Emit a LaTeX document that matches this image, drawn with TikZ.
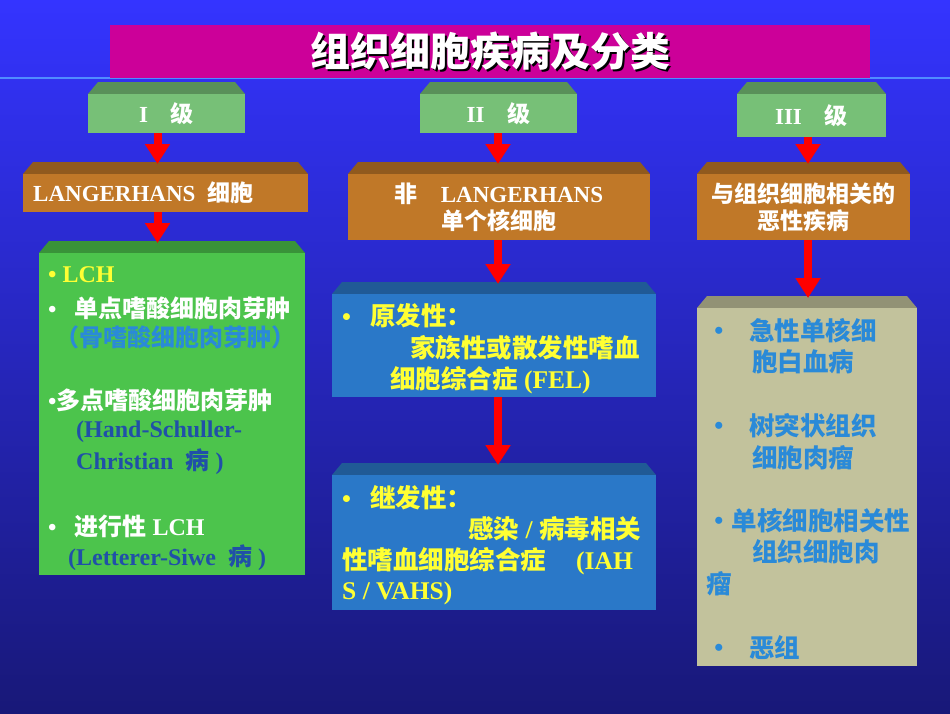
\documentclass[tikz,border=0pt]{standalone}
\usepackage{fontspec}
\setmainfont{Liberation Serif}[BoldFont={Liberation Serif Bold}]
\newfontfamily\cjk{Noto Sans CJK SC}
\usetikzlibrary{arrows.meta}
\newcommand{\zh}[1]{{\cjk\bfseries #1}}
\definecolor{gr}{HTML}{77C077}
\definecolor{org}{HTML}{C07828}
\definecolor{lg}{HTML}{4CC44C}
\definecolor{bl}{HTML}{2A78C8}
\definecolor{kh}{HTML}{C2C29C}
\definecolor{ty}{HTML}{FFFF33}
\definecolor{tb}{HTML}{2A8AD8}
\definecolor{td}{HTML}{2050A8}
\definecolor{mag}{HTML}{CC0099}
% \bbox{name}{x1}{y1}{x2}{y2}{color}
\newcommand{\bbox}[6]{%
  \fill[#6!75!black] (#2,#3+12) -- (#2+10,#3) -- (#4-10,#3) -- (#4,#3+12) -- cycle;
  \node[fill=#6, inner sep=0, outer sep=0, anchor=north west, minimum width={#4pt-#2pt}, minimum height={#5pt-#3pt-12pt}] (#1) at (#2,#3+12) {};}
\begin{document}
\begin{tikzpicture}[x=1pt,y=-1pt,
  arr/.style={red, line width=8pt, -{Triangle[width=24pt,length=20pt]}, shorten >=10pt},
  tx/.style={anchor=west, inner sep=0, font=\bfseries\fontsize{25}{29}\selectfont},
  bx/.style={anchor=center, inner sep=0, font=\bfseries\fontsize{23}{27}\selectfont, white, align=center}]
\shade[top color={rgb,255:red,52;green,52;blue,255}, bottom color={rgb,255:red,24;green,24;blue,120}] (0,0) rectangle (950,713);
\useasboundingbox (0,0) rectangle (950,713);
\draw[line width=1.5pt, color={rgb,255:red,80;green,140;blue,255}] (0,78) -- (950,78);
\node[fill=mag, inner sep=0, anchor=north west, minimum width=760pt, minimum height=53pt] (title) at (110,25) {};
\node[font=\cjk\bfseries\fontsize{40}{46}\selectfont, black] at ([shift={(2pt,-2pt)}]title.center) {组织细胞疾病及分类};
\node[font=\cjk\bfseries\fontsize{40}{46}\selectfont, white] at (title.center) {组织细胞疾病及分类};
% grade boxes
\bbox{g1}{88}{82}{245}{133}{gr}
\bbox{g2}{420}{82}{577}{133}{gr}
\bbox{g3}{737}{82}{886}{137}{gr}
\node[bx] at (g1.center) {I\quad\zh{级}};
\node[bx] at (g2.center) {II\quad\zh{级}};
\node[bx] at (g3.center) {III\quad\zh{级}};
% orange
\bbox{o1}{23}{162}{308}{212}{org}
\bbox{o2}{348}{162}{650}{240}{org}
\bbox{o3}{697}{162}{910}{240}{org}
\node[tx, white, font=\bfseries\fontsize{23}{27}\selectfont] at (33,193) {LANGERHANS\ \ \zh{细胞}};
\node[bx] at (o2.center) {\zh{非}\quad LANGERHANS\\\zh{单个核细胞}};
\node[bx] at (o3.center) {\zh{与组织细胞相关的}\\\zh{恶性疾病}};
% lower boxes
\bbox{lch}{39}{241}{305}{575}{lg}
\bbox{p1}{332}{282}{656}{397}{bl}
\bbox{p2}{332}{463}{656}{610}{bl}
\bbox{m}{697}{296}{917}{666}{kh}
% arrows
\draw[arr] ([xshift=-9pt]g1.south) -- ([xshift=-9pt]g1.south |- o1.north);
\draw[arr] ([xshift=-0.5pt]g2.south) -- ([xshift=-0.5pt]g2.south |- o2.north);
\draw[arr] ([xshift=-3.5pt]g3.south) -- ([xshift=-3.5pt]g3.south |- o3.north);
\draw[arr] ([xshift=-9pt]g1.south |- o1.south) -- ([xshift=-9pt]g1.south |- lch.north);
\draw[arr] ([xshift=-0.5pt]g2.south |- o2.south) -- ([xshift=-0.5pt]g2.south |- p1.north);
\draw[arr] ([xshift=-3.5pt]g3.south |- o3.south) -- ([xshift=-3.5pt]g3.south |- m.north);
\draw[arr] ([xshift=-0.5pt]g2.south |- p1.south) -- ([xshift=-0.5pt]g2.south |- p2.north);
% green text
\begin{scope}[every node/.style={tx, font=\bfseries\fontsize{24}{28}\selectfont}]
\node[ty] at (48,275) {• LCH};
\node[white] at (48,308) {•\ \ \ \zh{单点嗜酸细胞肉芽肿}};
\node[tb] at (55,337) {\zh{（骨嗜酸细胞肉芽肿）}};
\node[white] at (48,400) {•\zh{多点嗜酸细胞肉芽肿}};
\node[td] at (76,432) {(Hand-Schuller-};
\node[td] at (76,462) {Christian\ \ \zh{病} )};
\node[white] at (48,526) {•\ \ \ \zh{进行性} LCH};
\node[td] at (68,558) {(Letterer-Siwe\ \ \zh{病} )};
\end{scope}
% blue text
\begin{scope}[every node/.style={tx, ty, font=\bfseries\fontsize{25.5}{29}\selectfont}]
\node at (342,316) {•\ \ \ \zh{原发性：}};
\node at (410,348) {\zh{家族性或散发性嗜血}};
\node at (390,380) {\zh{细胞综合症} (FEL)};
\node at (342,498) {•\ \ \ \zh{继发性：}};
\node at (468,529) {\zh{感染} / \zh{病毒相关}};
\node at (342,561) {\zh{性嗜血细胞综合症}\hspace{30pt}(IAH};
\node at (342,593) {S / VAHS)};
\end{scope}
\begin{scope}[every node/.style={tx, tb, font=\cjk\bfseries\fontsize{25.5}{30}\selectfont}]
\node at (706,331) {•\ \ \ 急性单核细};
\node at (752,362) {胞白血病};
\node at (706,426) {•\ \ \ 树突状组织};
\node at (752,458) {细胞肉瘤};
\node at (706,521) {•单核细胞相关性};
\node at (752,552) {组织细胞肉};
\node at (706,584) {瘤};
\node at (706,648) {•\ \ \ 恶组};
\end{scope}
\end{tikzpicture}
\end{document}
